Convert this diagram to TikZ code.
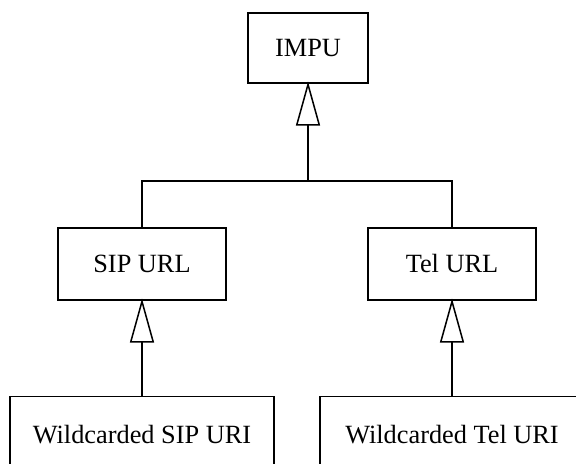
\documentclass[tikz,border=0pt]{standalone}
\usepackage{fontspec}
\setmainfont{Liberation Serif}
\usetikzlibrary{arrows.meta}

\begin{document}
\begin{tikzpicture}[
    box/.style={draw, line width=0.9pt, font=\fontsize{15.6}{18}\selectfont},
    inherit/.style={line width=0.9pt, shorten >=-1.3pt, -{Triangle[open, length=0.917cm, width=0.5cm]}},
    link/.style={line width=0.9pt}
]

\useasboundingbox (0, 0) rectangle (12, 9.646);

\node [box, minimum width=2.5cm, minimum height=1.458cm] (impu) at (6.417, 8.646) {IMPU};

\node [box, minimum width=3.5cm, minimum height=1.5cm] (sip) at (2.958, 4.146) {SIP URL};
\node [box, minimum width=3.5cm, minimum height=1.5cm] (tel) at (9.417, 4.146) {Tel URL};

\node [box, minimum width=5.5cm, minimum height=1.6cm] (wsip) at (2.958, 0.585) {Wildcarded SIP URI};
\node [box, minimum width=5.5cm, minimum height=1.6cm] (wtel) at (9.417, 0.585) {Wildcarded Tel URI};

\coordinate (bar) at (impu.south |- 0, 5.875);

\draw [link] (sip.north) |- (bar) -| (tel.north);
\draw [inherit] (bar) -- (impu.south);

\draw [inherit] (wsip.north) -- (sip.south);
\draw [inherit] (wtel.north) -- (tel.south);

\end{tikzpicture}
\end{document}
